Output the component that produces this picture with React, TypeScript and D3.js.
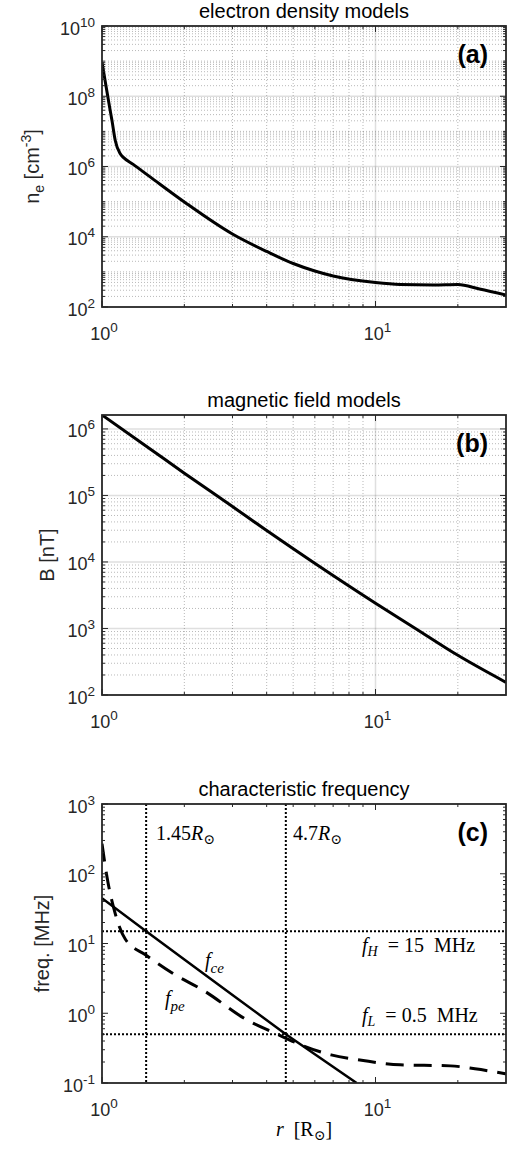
import React from 'react';
import * as d3 from 'd3';

// ---------- data ----------
// (a) electron density n_e [cm^-3] versus r [R_sun]
const R_NE = [1.0, 1.028, 1.057, 1.088, 1.118, 1.166, 1.197, 1.3, 1.5, 2.0, 3.02, 4.0, 5.0, 6.0, 7.0, 10, 12.3, 16.3, 20, 24, 30];
const NE = [9.3e8, 2.6e8, 7.2e7, 2.0e7, 5.5e6, 2.3e6, 1.82e6, 1.15e6, 5.06e5, 9.8e4, 1.16e4, 3.81e3, 1.73e3, 1.06e3, 7.64e2, 4.99e2, 4.38e2, 4.24e2, 4.38e2, 3.26e2, 2.2e2];

// (b) magnetic field B [nT] versus r
const R_B = [1, 1.5, 2, 3, 3.94, 5.9, 10, 13.9, 20, 30];
const B_NT = [1.62e6, 5.0e5, 2.16e5, 6.8e4, 3.1e4, 1.0e4, 2.4e3, 1.02e3, 3.95e2, 1.55e2];

// (c) characteristic frequencies [MHz]
const R_FCE = [1, 1.45, 2, 3, 4.7, 8.53];
const FCE = [44.6, 15, 5.9, 1.83, 0.5, 0.1];
const R_FPE = [1.0, 1.043, 1.109, 1.216, 1.45, 1.8, 2.36, 3.39, 4.33, 5.34, 6.88, 9.15, 12.3, 18.8, 23.1, 30];
const FPE = [270, 90, 30, 11.6, 6.8, 3.8, 2.1, 0.8, 0.51, 0.352, 0.253, 0.208, 0.182, 0.176, 0.16, 0.135];
const F_LEVELS = [15, 0.5];
const R_LEVELS = [1.45, 4.7];

// axes
const X_DOMAIN: [number, number] = [1, 30];
const X_TICKS = [1, 10];
const Y_DOMAIN_A: [number, number] = [1e2, 1e10];
const Y_TICKS_A = [1e2, 1e4, 1e6, 1e8, 1e10];
const Y_DOMAIN_B: [number, number] = [1e2, 1.62e6];
const Y_TICKS_B = [1e2, 1e3, 1e4, 1e5, 1e6];
const Y_DOMAIN_C: [number, number] = [1e-1, 1e3];
const Y_TICKS_C = [1e-1, 1e0, 1e1, 1e2, 1e3];

// ---------- layout ----------
const W = 511;
const H = 1149;
const X0 = 102;
const X1 = 506;
const AX = '#262626';
const SANS = '"Liberation Sans", Arial, Helvetica, sans-serif';
const SERIF = '"Liberation Serif", "DejaVu Serif", serif';
const TICK_FS = 18;
const SUP_FS = 13.5;
const LABEL_FS = 20;

const xScale = d3.scaleLog().domain(X_DOMAIN).range([X0, X1]);

function minorValues(domain: [number, number], major: number[]) {
  const out: number[] = [];
  const e0 = Math.floor(Math.log10(domain[0]));
  const e1 = Math.ceil(Math.log10(domain[1]));
  for (let e = e0; e <= e1; e++) {
    for (let m = 1; m <= 9; m++) {
      const v = m * Math.pow(10, e);
      const lv = Math.log10(v);
      if (lv <= Math.log10(domain[0]) + 1e-9 || lv >= Math.log10(domain[1]) - 1e-9) continue;
      if (major.some((t) => Math.abs(Math.log10(t) - lv) < 1e-9)) continue;
      out.push(v);
    }
  }
  return out;
}

function pow10(v: number) {
  const e = Math.round(Math.log10(v));
  return (
    <>
      <tspan>10</tspan>
      <tspan dy={-8} fontSize={SUP_FS}>{String(e)}</tspan>
    </>
  );
}

type PanelProps = {
  id: string;
  top: number;
  bottom: number;
  yDomain: [number, number];
  yTicks: number[];
  grid: boolean;
  title: string;
  tag: string;
  children?: (y: d3.ScaleLogarithmic<number, number>) => React.ReactNode;
};

function Panel({ id, top, bottom, yDomain, yTicks, grid, title, tag, children }: PanelProps) {
  const y = d3.scaleLog().domain(yDomain).range([bottom, top]);
  const xMinor = minorValues(X_DOMAIN, X_TICKS);
  const yMinor = minorValues(yDomain, yTicks);
  const yMajorIn = yTicks.filter((t) => y(t) > top + 0.5 && y(t) < bottom - 0.5);
  const xMajorIn = X_TICKS.filter((t) => xScale(t) > X0 + 0.5 && xScale(t) < X1 - 0.5);
  const MAJ = 6;
  const MIN = 3;
  return (
    <g>
      <defs>
        <clipPath id={`clip-${id}`}>
          <rect x={X0} y={top} width={X1 - X0} height={bottom - top} />
        </clipPath>
      </defs>
      {grid && (
        <g>
          {xMinor.map((v) => (
            <line key={`xm${v}`} x1={xScale(v)} x2={xScale(v)} y1={top} y2={bottom}
              stroke={AX} strokeOpacity={0.32} strokeWidth={1} strokeDasharray="1 2" />
          ))}
          {yMinor.map((v) => (
            <line key={`ym${v}`} x1={X0} x2={X1} y1={y(v)} y2={y(v)}
              stroke={AX} strokeOpacity={0.32} strokeWidth={1} strokeDasharray="1 2" />
          ))}
          {xMajorIn.map((v) => (
            <line key={`xM${v}`} x1={xScale(v)} x2={xScale(v)} y1={top} y2={bottom}
              stroke={AX} strokeOpacity={0.15} strokeWidth={1.5} />
          ))}
          {yMajorIn.map((v) => (
            <line key={`yM${v}`} x1={X0} x2={X1} y1={y(v)} y2={y(v)}
              stroke={AX} strokeOpacity={0.15} strokeWidth={1.5} />
          ))}
        </g>
      )}
      <g clipPath={`url(#clip-${id})`}>{children ? children(y) : null}</g>
      {/* ticks */}
      <g stroke={AX} strokeWidth={1}>
        {xMinor.map((v) => (
          <g key={`txm${v}`}>
            <line x1={xScale(v)} x2={xScale(v)} y1={bottom} y2={bottom - MIN} />
            <line x1={xScale(v)} x2={xScale(v)} y1={top} y2={top + MIN} />
          </g>
        ))}
        {X_TICKS.map((v) => (
          <g key={`txM${v}`}>
            <line x1={xScale(v)} x2={xScale(v)} y1={bottom} y2={bottom - MAJ} />
            <line x1={xScale(v)} x2={xScale(v)} y1={top} y2={top + MAJ} />
          </g>
        ))}
        {yMinor.map((v) => (
          <g key={`tym${v}`}>
            <line x1={X0} x2={X0 + MIN} y1={y(v)} y2={y(v)} />
            <line x1={X1} x2={X1 - MIN} y1={y(v)} y2={y(v)} />
          </g>
        ))}
        {yTicks.map((v) => (
          <g key={`tyM${v}`}>
            <line x1={X0} x2={X0 + MAJ} y1={y(v)} y2={y(v)} />
            <line x1={X1} x2={X1 - MAJ} y1={y(v)} y2={y(v)} />
          </g>
        ))}
      </g>
      <rect x={X0} y={top} width={X1 - X0} height={bottom - top} fill="none" stroke={AX} strokeWidth={1.8} />
      {/* tick labels */}
      <g fontFamily={SANS} fontSize={TICK_FS} fill={AX}>
        {yTicks.map((v) => (
          <text key={`ly${v}`} x={X0 - 7} y={y(v) + 8.5} textAnchor="end">{pow10(v)}</text>
        ))}
        {X_TICKS.map((v) => (
          <text key={`lx${v}`} x={xScale(v) + 2} y={bottom + 33} textAnchor="middle">{pow10(v)}</text>
        ))}
      </g>
      <text x={(X0 + X1) / 2} y={top - 8} textAnchor="middle" fontFamily={SANS} fontSize={LABEL_FS} fill="#000">{title}</text>
      <text x={X1 - 18} y={top + 37} textAnchor="end" fontFamily={SANS} fontSize={25} fontWeight="bold" fill="#000">{tag}</text>
    </g>
  );
}

function pathFor(xs: number[], ys: number[], y: d3.ScaleLogarithmic<number, number>, curve = d3.curveMonotoneX) {
  const pts = xs.map((r, i) => [r, ys[i]] as [number, number]);
  return d3.line<[number, number]>().x((d) => xScale(d[0])).y((d) => y(d[1])).curve(curve)(pts) || '';
}

export default function App() {
  const topA = 26, botA = 307;
  const topB = 415, botB = 695;
  const topC = 804, botC = 1083;
  return (
    <svg width={W} height={H} viewBox={`0 0 ${W} ${H}`}
      style={{ position: 'absolute', left: 0, top: 0, background: '#fff' }}>
      <rect x={0} y={0} width={W} height={H} fill="#fff" />

      <Panel id="a" top={topA} bottom={botA} yDomain={Y_DOMAIN_A} yTicks={Y_TICKS_A} grid title="electron density models" tag="(a)">
        {(y) => <path d={pathFor(R_NE, NE, y)} fill="none" stroke="#000" strokeWidth={3} strokeLinejoin="round" />}
      </Panel>

      <Panel id="b" top={topB} bottom={botB} yDomain={Y_DOMAIN_B} yTicks={Y_TICKS_B} grid title="magnetic field models" tag="(b)">
        {(y) => <path d={pathFor(R_B, B_NT, y)} fill="none" stroke="#000" strokeWidth={3} strokeLinejoin="round" />}
      </Panel>

      <Panel id="c" top={topC} bottom={botC} yDomain={Y_DOMAIN_C} yTicks={Y_TICKS_C} grid={false} title="characteristic frequency" tag="(c)">
        {(y) => (
          <g>
            {R_LEVELS.map((r) => (
              <line key={`rv${r}`} x1={xScale(r)} x2={xScale(r)} y1={topC} y2={botC}
                stroke="#000" strokeWidth={2} strokeDasharray="2 2" />
            ))}
            {F_LEVELS.map((f) => (
              <line key={`fh${f}`} x1={X0} x2={X1} y1={y(f)} y2={y(f)}
                stroke="#000" strokeWidth={2} strokeDasharray="2 2" />
            ))}
            <path d={pathFor(R_FCE, FCE, y, d3.curveLinear)} fill="none" stroke="#000" strokeWidth={2.5} />
            <path d={pathFor(R_FPE, FPE, y)} fill="none" stroke="#000" strokeWidth={3} strokeDasharray="18 10" />
          </g>
        )}
      </Panel>

      {/* y labels */}
      <g fontFamily={SANS} fontSize={LABEL_FS} fill={AX}>
        <text transform={`translate(38.5,${(topA + botA) / 2}) rotate(-90)`} textAnchor="middle">
          <tspan>n</tspan>
          <tspan dy={5} fontSize={14}>e</tspan>
          <tspan dy={-5}> [cm</tspan>
          <tspan dy={-8} fontSize={14}>-3</tspan>
          <tspan dy={8}>]</tspan>
        </text>
        <text transform={`translate(54,${(topB + botB) / 2}) rotate(-90)`} textAnchor="middle">B [nT]</text>
        <text transform={`translate(48.5,${(topC + botC) / 2}) rotate(-90)`} textAnchor="middle">freq. [MHz]</text>
      </g>

      {/* math annotations in (c) */}
      <g fontFamily={SERIF} fontSize={20} fill="#000">
        <text x={156} y={840}>
          1.45<tspan fontStyle="italic">R</tspan><tspan fontSize={14} dy={4}>⊙</tspan>
        </text>
        <text x={293} y={840}>
          4.7<tspan fontStyle="italic">R</tspan><tspan fontSize={14} dy={4}>⊙</tspan>
        </text>
        <text x={362} y={952}>
          <tspan fontStyle="italic">f</tspan><tspan fontStyle="italic" fontSize={14} dy={4}>H</tspan>
          <tspan dy={-4}>{'\u2002= 15\u2002MHz'}</tspan>
        </text>
        <text x={362} y={1022}>
          <tspan fontStyle="italic">f</tspan><tspan fontStyle="italic" fontSize={14} dy={4}>L</tspan>
          <tspan dy={-4}>{'\u2002= 0.5\u2002MHz'}</tspan>
        </text>
        <text x={205} y={967}>
          <tspan fontStyle="italic">f</tspan><tspan fontStyle="italic" fontSize={15} dy={6}>ce</tspan>
        </text>
        <text x={165} y={1005}>
          <tspan fontStyle="italic">f</tspan><tspan fontStyle="italic" fontSize={15} dy={6}>pe</tspan>
        </text>
        <text x={304} y={1136} textAnchor="middle">
          <tspan fontStyle="italic">r</tspan>
          <tspan>{'\u2002[R'}</tspan><tspan fontSize={14} dy={4}>⊙</tspan><tspan dy={-4}>]</tspan>
        </text>
      </g>
    </svg>
  );
}
